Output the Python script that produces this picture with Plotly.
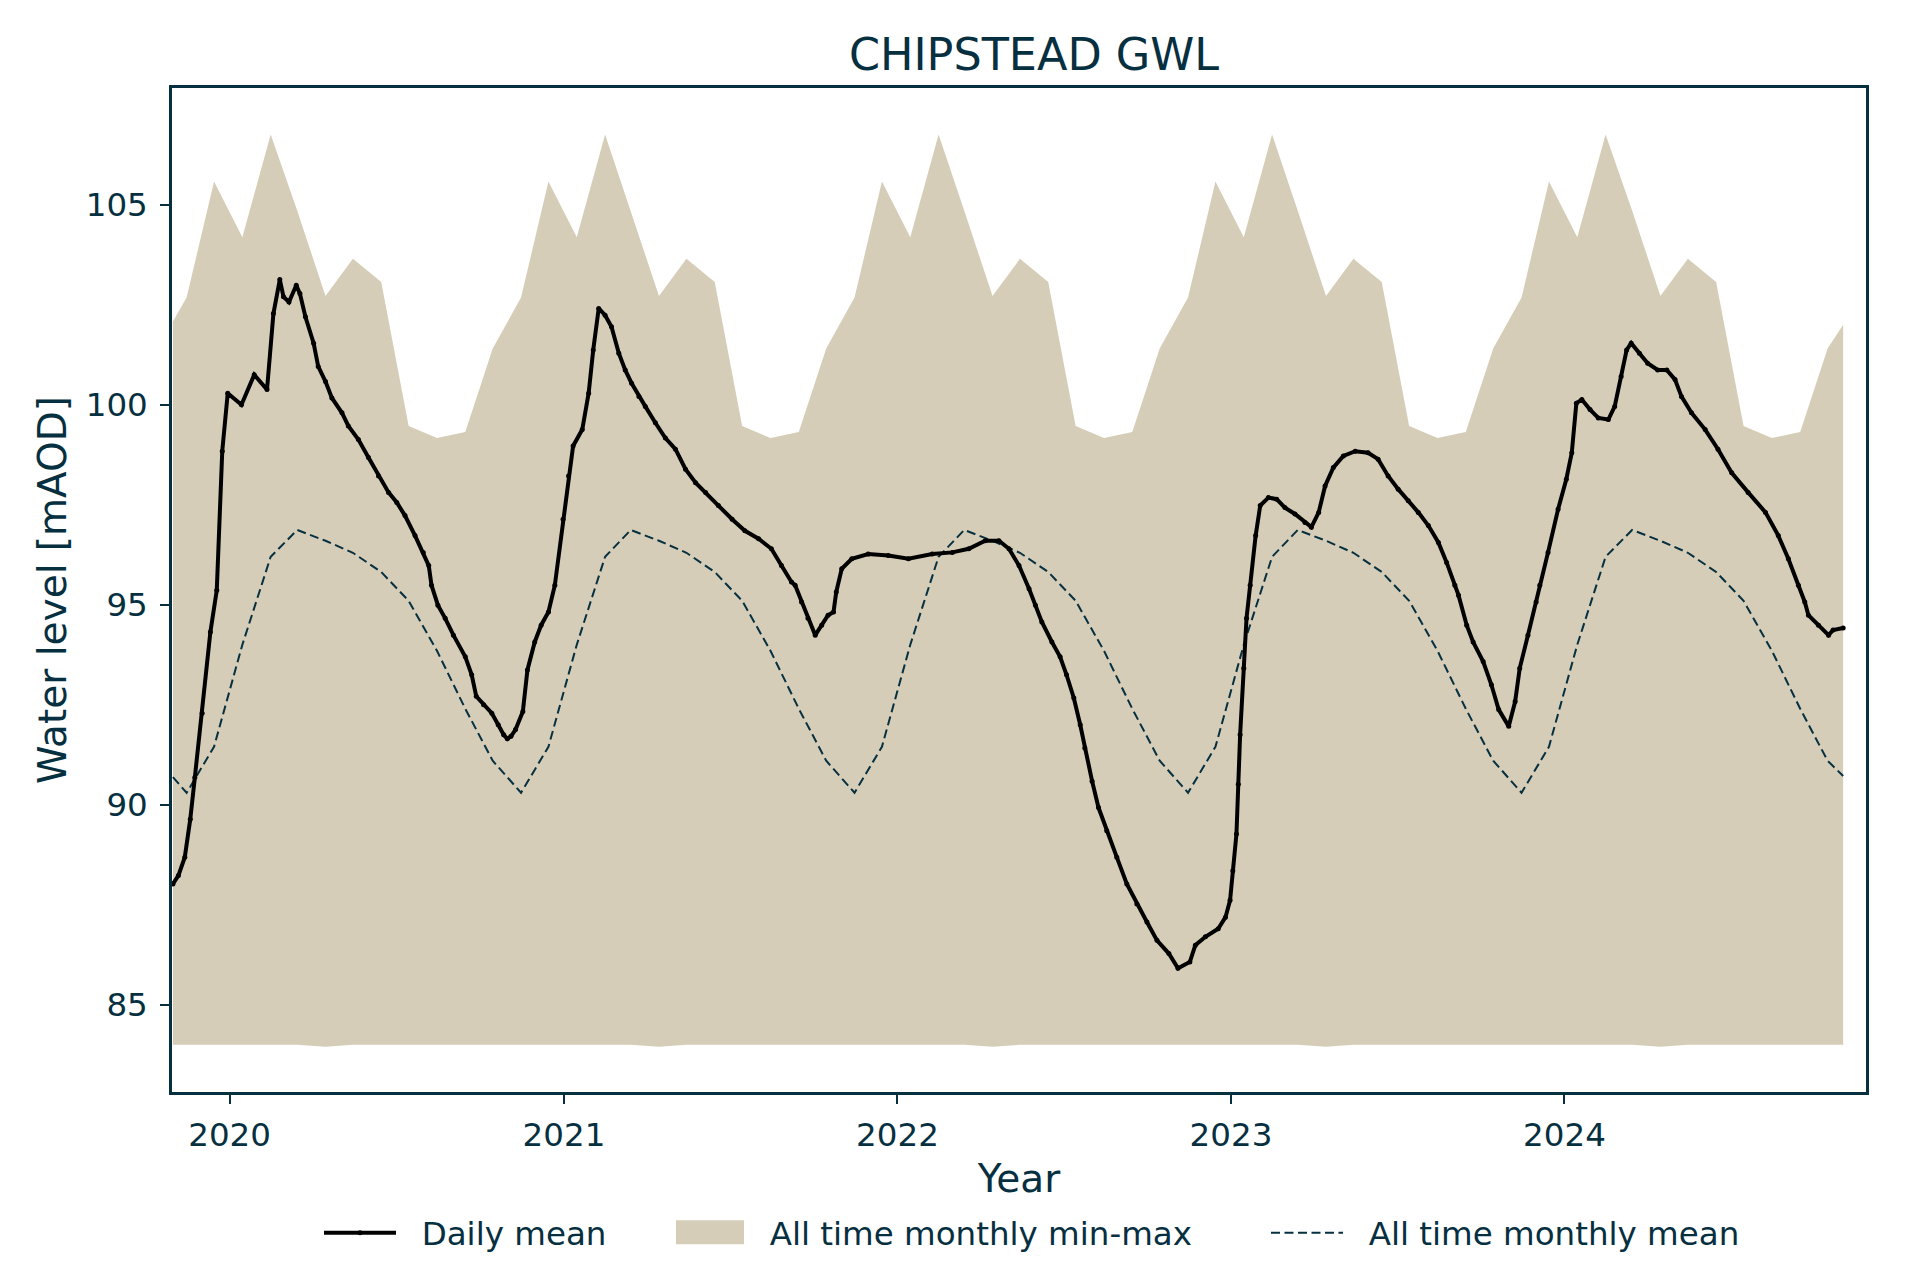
import plotly.graph_objects as go
import pandas as pd

# ---------------- data ----------------
daily_dates = [
    "2019-10-31", "2019-11-06", "2019-11-13", "2019-11-19", "2019-11-24", "2019-12-02",
    "2019-12-11", "2019-12-18", "2019-12-24", "2019-12-30", "2020-01-14", "2020-01-28",
    "2020-02-11", "2020-02-18", "2020-02-25", "2020-02-29", "2020-03-06", "2020-03-14",
    "2020-03-18", "2020-03-24", "2020-04-02", "2020-04-07", "2020-04-15", "2020-04-22",
    "2020-05-03", "2020-05-10", "2020-05-21", "2020-06-01", "2020-06-12", "2020-06-23",
    "2020-07-02", "2020-07-11", "2020-07-22", "2020-07-31", "2020-08-06", "2020-08-09",
    "2020-08-16", "2020-08-24", "2020-09-02", "2020-09-15", "2020-09-22", "2020-09-27",
    "2020-10-05", "2020-10-14", "2020-10-21", "2020-10-27", "2020-10-31", "2020-11-04",
    "2020-11-09", "2020-11-17", "2020-11-22", "2020-11-30", "2020-12-07", "2020-12-15",
    "2020-12-22", "2020-12-31", "2021-01-06", "2021-01-11", "2021-01-21", "2021-01-28",
    "2021-02-02", "2021-02-08", "2021-02-15", "2021-02-22", "2021-03-02", "2021-03-09",
    "2021-03-16", "2021-03-24", "2021-03-31", "2021-04-11", "2021-04-22", "2021-05-03",
    "2021-05-14", "2021-05-25", "2021-06-05", "2021-06-19", "2021-07-04", "2021-07-18",
    "2021-08-02", "2021-08-16", "2021-08-27", "2021-09-07", "2021-09-11", "2021-09-18",
    "2021-09-25", "2021-10-03", "2021-10-10", "2021-10-17", "2021-10-23", "2021-10-26",
    "2021-11-01", "2021-11-12", "2021-11-30", "2021-12-22", "2022-01-13", "2022-02-08",
    "2022-03-02", "2022-03-20", "2022-04-07", "2022-04-22", "2022-05-03", "2022-05-14",
    "2022-05-25", "2022-06-01", "2022-06-08", "2022-06-19", "2022-06-28", "2022-07-05",
    "2022-07-13", "2022-07-20", "2022-07-25", "2022-08-02", "2022-08-09", "2022-08-18",
    "2022-08-29", "2022-09-09", "2022-09-20", "2022-10-01", "2022-10-12", "2022-10-25",
    "2022-11-04", "2022-11-17", "2022-11-23", "2022-12-04", "2022-12-18", "2022-12-26",
    "2022-12-31", "2023-01-03", "2023-01-07", "2023-01-09", "2023-01-11", "2023-01-15",
    "2023-01-18", "2023-01-22", "2023-01-28", "2023-02-02", "2023-02-11", "2023-02-20",
    "2023-03-01", "2023-03-12", "2023-03-23", "2023-03-30", "2023-04-07", "2023-04-14",
    "2023-04-23", "2023-05-04", "2023-05-17", "2023-05-31", "2023-06-11", "2023-06-22",
    "2023-07-03", "2023-07-14", "2023-07-25", "2023-08-05", "2023-08-16", "2023-08-25",
    "2023-09-03", "2023-09-07", "2023-09-16", "2023-09-23", "2023-10-04", "2023-10-13",
    "2023-10-21", "2023-11-01", "2023-11-08", "2023-11-13", "2023-11-22", "2023-12-01",
    "2023-12-05", "2023-12-14", "2023-12-25", "2024-01-03", "2024-01-09", "2024-01-14",
    "2024-01-20", "2024-01-29", "2024-02-07", "2024-02-18", "2024-02-25", "2024-03-03",
    "2024-03-09", "2024-03-14", "2024-03-23", "2024-04-01", "2024-04-12", "2024-04-22",
    "2024-05-01", "2024-05-08", "2024-05-19", "2024-06-03", "2024-06-17", "2024-07-02",
    "2024-07-20", "2024-08-08", "2024-08-22", "2024-09-02", "2024-09-13", "2024-09-20",
    "2024-09-24", "2024-10-05", "2024-10-16", "2024-10-21", "2024-11-01",
]
daily_values = [
    88.02, 88.23, 88.69, 89.64, 90.68, 92.29,
    94.32, 95.36, 98.84, 100.29, 100.00, 100.75,
    100.38, 102.28, 103.13, 102.70, 102.57, 102.99,
    102.78, 102.20, 101.54, 100.96, 100.58, 100.17,
    99.80, 99.47, 99.13, 98.68, 98.22, 97.81,
    97.56, 97.23, 96.73, 96.31, 95.98, 95.49,
    94.99, 94.66, 94.24, 93.70, 93.25, 92.71,
    92.50, 92.29, 92.00, 91.75, 91.65, 91.71,
    91.88, 92.33, 93.37, 94.07, 94.49, 94.82,
    95.49, 97.14, 98.22, 98.97, 99.38, 100.29,
    101.37, 102.41, 102.24, 101.95, 101.29, 100.87,
    100.54, 100.21, 99.96, 99.55, 99.17, 98.89,
    98.39, 98.05, 97.81, 97.48, 97.14, 96.85,
    96.65, 96.40, 95.98, 95.57, 95.49, 95.07,
    94.66, 94.24, 94.49, 94.74, 94.82, 95.32,
    95.90, 96.15, 96.27, 96.23, 96.15, 96.27,
    96.31, 96.40, 96.60, 96.60, 96.40, 95.98,
    95.40, 94.99, 94.57, 94.07, 93.70, 93.25,
    92.67, 92.00, 91.42, 90.59, 89.93, 89.35,
    88.69, 88.02, 87.52, 87.07, 86.61, 86.28,
    85.91, 86.07, 86.49, 86.70, 86.90, 87.19,
    87.61, 88.35, 89.27, 90.51, 91.75, 93.41,
    94.66, 95.49, 96.73, 97.48, 97.68, 97.64,
    97.43, 97.27, 97.06, 96.94, 97.31, 97.97,
    98.43, 98.72, 98.84, 98.80, 98.64, 98.22,
    97.89, 97.60, 97.31, 96.98, 96.56, 96.06,
    95.49, 95.24, 94.49, 94.07, 93.58, 93.00,
    92.38, 91.96, 92.58, 93.41, 94.24, 95.07,
    95.49, 96.31, 97.39, 98.14, 98.80, 100.04,
    100.13, 99.88, 99.67, 99.63, 99.96, 100.71,
    101.37, 101.54, 101.29, 101.04, 100.87, 100.87,
    100.63, 100.21, 99.80, 99.38, 98.89, 98.30,
    97.81, 97.31, 96.73, 96.15, 95.49, 95.07,
    94.74, 94.49, 94.24, 94.37, 94.42,
]

# all-time monthly statistics (January..December), plotted at mid-month
clim_max = [104.19, 106.76, 104.86, 102.72, 103.65, 103.07, 99.47, 99.17, 99.32, 101.41, 102.68, 105.58]
clim_min = [84.00, 84.00, 84.00, 83.95, 84.00, 84.00, 84.00, 84.00, 84.00, 84.00, 84.00, 84.00]
clim_mean = [94.00, 96.20, 96.87, 96.60, 96.30, 95.82, 95.10, 93.85, 92.40, 91.10, 90.30, 91.45]

# values of the monthly envelope at the first and last day of the record
edge_dates = ["2019-10-31", "2024-11-01"]
edge_max = [102.08, 102.00]
edge_min = [84.00, 84.00]
edge_mean = [90.69, 90.72]

tick_years = ["2020", "2021", "2022", "2023", "2024"]

# ---------------- styling ----------------
TEXT = "#062f3f"
FILL = "#d5cdb8"
FONT = "DejaVu Sans"
W, H = 1920, 1280
L, R, T, B = 164, 62, 80, 191
PW = W - L - R
PH = H - T - B

def px_to_paper_x(x):
    return (x - L) / PW

def px_to_paper_y(y):
    return (H - B - y) / PH

NB = "\u00a0"
TICK_FS = 32.5
LEG_FS = 32.5
LAB_FS = 39
TITLE_FS = 44.5
LEG_Y = 1225

# build the monthly envelope series from the climatology
mid_month = pd.date_range("2019-11-01", "2024-10-01", freq="MS") + pd.Timedelta(days=14)
env_dates = [pd.Timestamp(edge_dates[0])] + list(mid_month) + [pd.Timestamp(edge_dates[1])]
env_max = [edge_max[0]] + [clim_max[d.month - 1] for d in mid_month] + [edge_max[1]]
env_min = [edge_min[0]] + [clim_min[d.month - 1] for d in mid_month] + [edge_min[1]]
env_mean = [edge_mean[0]] + [clim_mean[d.month - 1] for d in mid_month] + [edge_mean[1]]

fig = go.Figure()

fig.add_trace(go.Scatter(
    x=env_dates, y=env_min, mode="lines", line=dict(width=0, color=FILL),
    showlegend=False, hoverinfo="skip",
))
fig.add_trace(go.Scatter(
    x=env_dates, y=env_max, mode="lines", line=dict(width=0, color=FILL),
    fill="tonexty", fillcolor=FILL, showlegend=False,
    name="All time monthly min-max",
))
# legend entry for the envelope (its swatch is the rectangle shape below)
fig.add_trace(go.Scatter(
    x=[None], y=[None], mode="lines", line=dict(width=1, color="rgba(0,0,0,0)"),
    name=NB * 2 + "All time monthly min-max", legend="legend2",
))
fig.add_trace(go.Scatter(
    x=env_dates, y=env_mean, mode="lines",
    line=dict(color=TEXT, width=2, dash="9px,4.5px"),
    name=NB * 2 + "All time monthly mean", legend="legend3",
))
fig.add_trace(go.Scatter(
    x=daily_dates, y=daily_values, mode="lines+markers",
    line=dict(color="black", width=4),
    marker=dict(size=5, color="black"),
    name=NB * 2 + "Daily mean", legend="legend",
))

# swatch of the min-max legend entry
fig.add_shape(type="rect", xref="paper", yref="paper",
              x0=px_to_paper_x(668), x1=px_to_paper_x(736),
              y0=px_to_paper_y(LEG_Y + 17), y1=px_to_paper_y(LEG_Y - 7),
              fillcolor=FILL, line=dict(width=0), layer="above")

leg_common = dict(orientation="h", xref="paper", xanchor="left",
                  y=1 - LEG_Y / H, yref="container", yanchor="middle",
                  font=dict(size=LEG_FS, color=TEXT, family=FONT),
                  bgcolor="rgba(0,0,0,0)", borderwidth=0)

fig.update_layout(
    width=W, height=H,
    paper_bgcolor="white", plot_bgcolor="white",
    margin=dict(l=L, r=R, t=T, b=B),
    font=dict(family=FONT, color=TEXT, size=TICK_FS),
    title=dict(text="CHIPSTEAD GWL", x=px_to_paper_x(1026), xref="paper", xanchor="center",
               y=1 - 46 / H, yref="container", yanchor="middle",
               font=dict(size=TITLE_FS, color=TEXT, family=FONT)),
    legend=dict(**leg_common, x=px_to_paper_x(311), itemwidth=72),
    legend2=dict(**leg_common, x=px_to_paper_x(663), itemwidth=68),
    legend3=dict(**leg_common, x=px_to_paper_x(1258), itemwidth=72),
    showlegend=True,
)

fig.update_xaxes(
    type="date",
    range=["2019-10-30", "2024-11-26"],
    tickvals=[f"{y}-01-01" for y in tick_years], ticktext=tick_years,
    showline=True, linecolor=TEXT, linewidth=2.5, mirror=True,
    ticks="outside", ticklen=9, tickwidth=2.2, tickcolor=TEXT,
    showgrid=False, zeroline=False,
    tickfont=dict(size=TICK_FS, color=TEXT, family=FONT),
    ticklabelstandoff=3,
    title=dict(text="Year", font=dict(size=LAB_FS, color=TEXT, family=FONT), standoff=12),
)
fig.update_yaxes(
    range=[82.82, 107.92],
    tickvals=[85, 90, 95, 100, 105],
    showline=True, linecolor=TEXT, linewidth=2.5, mirror=True,
    ticks="outside", ticklen=9, tickwidth=2.2, tickcolor=TEXT,
    showgrid=False, zeroline=False,
    tickfont=dict(size=TICK_FS, color=TEXT, family=FONT),
    ticklabelstandoff=6,
    title=dict(text="Water level [mAOD]", font=dict(size=LAB_FS, color=TEXT, family=FONT), standoff=8),
)

fig.write_html("out.html")
